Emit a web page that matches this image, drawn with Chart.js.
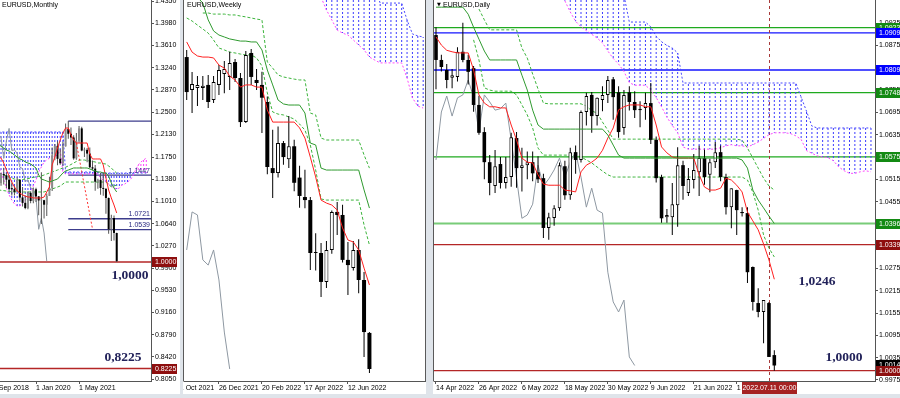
<!DOCTYPE html>
<html><head><meta charset="utf-8">
<script src="https://cdn.jsdelivr.net/npm/chart.js@4/dist/chart.umd.min.js"></script>
<style>
html,body{margin:0;padding:0;width:900px;height:398px;overflow:hidden;background:#dfe4ea;}
.p{position:absolute;top:0;background:#fff;}
#pm{left:0;width:180px;height:394px;}
#pw{left:183px;width:243px;height:394px;}
#pd{left:433px;width:467px;height:394px;}
canvas{display:block;}
</style></head><body>
<div class="p" id="pm"><canvas id="cm" width="180" height="394"></canvas></div>
<div class="p" id="pw"><canvas id="cw" width="243" height="394"></canvas></div>
<div class="p" id="pd"><canvas id="cd" width="467" height="394"></canvas></div>
<script>
const FONT = '"Liberation Sans", Arial, sans-serif';

// ================= MONTHLY (index 0 = Nov 2018) =================
const mTickIdx = [-2, 14, 30];
const mTickLbl = ['1 Sep 2018', '1 Jan 2020', '1 May 2021'];
const mYTicks = [1.4350,1.3980,1.3610,1.3240,1.2870,1.2500,1.2130,1.1750,1.1380,1.1010,1.0640,1.0270,0.9900,0.9530,0.9160,0.8790,0.8420,0.8050];
const mOpen = [1.1310,1.1316,1.1467,1.1445,1.1372,1.1217,1.1214,1.1169,1.1370,1.1076,
1.0986,1.0899,1.1152,1.1017,1.1212,1.1094,1.1026,1.1030,1.0955,1.1101,
1.1233,1.1778,1.1936,1.1720,1.1646,1.1927,1.2216,1.2137,1.2075,1.1727,
1.2020,1.2227,1.1858,1.1870,1.1807,1.1579,1.1557,1.1338,1.1370,1.1234,
1.1218,1.1067,1.0545,1.0733,1.0484];
const mHigh = [1.1500,1.1486,1.1570,1.1489,1.1448,1.1324,1.1265,1.1412,1.1384,1.1250,
1.1109,1.1179,1.1176,1.1240,1.1239,1.1096,1.1495,1.1039,1.1140,1.1422,
1.1909,1.1966,1.2011,1.1881,1.2004,1.2310,1.2349,1.2243,1.2113,1.2150,
1.2266,1.2254,1.1909,1.1900,1.1909,1.1692,1.1616,1.1386,1.1483,1.1495,
1.1233,1.1076,1.0787,1.0774,1.0486];
const mLow = [1.1215,1.1270,1.1290,1.1234,1.1176,1.1110,1.1107,1.1168,1.1028,1.0926,
1.0879,1.0879,1.0981,1.0981,1.1002,1.0778,1.0635,1.0727,1.0766,1.1100,
1.1185,1.1695,1.1612,1.1622,1.1603,1.1924,1.2053,1.1952,1.1704,1.1704,
1.1986,1.1847,1.1752,1.1664,1.1563,1.1524,1.1186,1.1222,1.1121,1.1106,
1.0806,1.0470,1.0348,1.0359,1.0000];
const mClose = [1.1316,1.1467,1.1445,1.1372,1.1217,1.1214,1.1169,1.1370,1.1076,1.0986,
1.0899,1.1152,1.1017,1.1212,1.1094,1.1026,1.1030,1.0955,1.1101,1.1233,
1.1778,1.1936,1.1720,1.1646,1.1927,1.2216,1.2137,1.2075,1.1727,1.2020,
1.2227,1.1858,1.1870,1.1807,1.1579,1.1557,1.1338,1.1370,1.1234,1.1218,
1.1067,1.0545,1.0733,1.0484,1.0014];
const mTenkan = [1.1750,1.1733,1.1650,1.1533,1.1433,1.1333,1.1250,1.1183,1.1150,1.1117,
1.1100,1.1083,1.1083,1.1067,1.1067,1.1067,1.1067,1.1083,1.1167,1.1250,
1.1617,1.1750,1.1900,1.2033,1.2150,1.2233,1.2233,1.2117,1.2033,1.1983,
1.1983,1.1983,1.1983,1.1983,1.1800,1.1717,1.1717,1.1717,1.1717,1.1617,
1.1400,1.1200,1.1067,1.0950,1.0817];
const mKijun = [1.1950,1.1933,1.1900,1.1867,1.1850,1.1817,1.1783,1.1750,1.1717,1.1700,
1.1667,1.1650,1.1633,1.1600,1.1567,1.1450,1.1383,1.1367,1.1350,1.1333,
1.1350,1.1367,1.1383,1.1433,1.1483,1.1517,1.1533,1.1550,1.1567,1.1567,
1.1567,1.1567,1.1567,1.1567,1.1550,1.1533,1.1517,1.1500,1.1500,1.1483,
1.1483,1.1433,1.1317,1.1233,1.1167];
const mDashA = [1.1483,1.1467,1.1450,1.1433,1.1417,1.1400,1.1383,1.1367,1.1367,1.1375,
1.1383,1.1390,1.1400,1.1410,1.1417,1.1425,1.1433,1.1450,1.1467,1.1483,
1.1500,1.1517,1.1533,1.1550,1.1567,1.1580,1.1600,1.1625,1.1650,1.1675,
1.1700,1.1700,1.1700,1.1690,1.1683,1.1675,1.1667,1.1650,1.1650,1.1640,
1.1633,1.1600,1.1567,1.1520,1.1483];
const mDashB = [1.1200,1.1195,1.1190,1.1183,1.1175,1.1170,1.1167,1.1167,1.1167,1.1167,
1.1167,1.1167,1.1167,1.1167,1.1167,1.1167,1.1167,1.1167,1.1183,1.1200,
1.1217,1.1233,1.1250,1.1267,1.1300,1.1333,1.1333,1.1333,1.1333,1.1333,
1.1333,1.1333,1.1333,1.1333,1.1333,1.1333,1.1333,1.1333,1.1333,1.1333,
1.1333,1.1300,1.1250,1.1267,1.1283];
const mSpanA = [1.1617,1.1500,1.1367,1.1233,1.1117,1.1033,1.0967,1.0933,1.0933,1.0983,
1.1033,1.1083,1.1167,1.1267,1.1367,1.1500,1.1583,1.1667,1.1700,1.1733,
1.1750,1.1767,1.1783,1.1867,1.1500,1.1470,1.1470,1.1470,1.1470,1.1470,
1.1470,1.1470,1.1470,1.1470,1.1470,1.1470,1.1470,1.1470,1.1400,1.1367,
1.1333,1.1300,1.1267,1.1233,1.1217,1.1233,1.1283,1.1300,1.1333,1.1367,
1.1433,1.1533,1.1617,1.1667,1.1700,1.1733];
const mSpanB = [1.2167,1.2167,1.2167,1.2167,1.2167,1.2167,1.2167,1.2167,1.2167,1.2167,
1.2167,1.2167,1.2167,1.2167,1.2167,1.2167,1.2167,1.2167,1.2167,1.2167,
1.2167,1.2167,1.2167,1.2167,1.2167,1.1500,1.1500,1.1500,1.1500,1.1500,
1.1500,1.1500,1.1500,1.1500,1.1500,1.1500,1.1500,1.1500,1.1483,1.1483,
1.1483,1.1483,1.1483,1.1483,1.1483,1.1483,1.1483,1.1483,1.1483,1.1483,
1.1483,1.1483,1.1483,1.1483,1.1483,1.1483];
const mTrendIdx = [29, 35];
const mTrendVal = [1.1983, 1.0550];
const mLevels = [1.2349, 1.1447, 1.0721, 1.0539, 1.0000, 0.8225];
const mLevelStart = [26, 26, 26, 26, null, null];
const mLevelKind = ['n', 'n', 'n', 'n', 'r', 'r'];
const mLevelTag = [false, true, true, true, false, false];
const mBoxes = [1.0000, 0.8225];
const mNotes = ['1,0000', '0,8225'];

// ================= WEEKLY (index 0 = week of 14 Nov 2021) =================
const wTickIdx = [-2, 6, 14, 22, 30];
const wTickLbl = ['31 Oct 2021', '26 Dec 2021', '20 Feb 2022', '17 Apr 2022', '12 Jun 2022'];
const wOpen = [1.1458,1.1306,1.1315,1.1315,1.1329,1.1259,1.1329,1.1380,1.1366,1.1435,
1.1361,1.1157,1.1477,1.1352,1.1329,1.1250,1.0944,1.0921,1.1060,1.0985,
1.1045,1.0900,1.0810,1.0796,1.0551,1.0551,1.0417,1.0565,1.0741,1.0727,
1.0519,1.0481,1.0565,1.0426,1.0181];
const wHigh = [1.1491,1.1389,1.1370,1.1370,1.1375,1.1370,1.1421,1.1440,1.1483,1.1449,
1.1384,1.1486,1.1495,1.1403,1.1390,1.1275,1.1121,1.1137,1.1070,1.1185,
1.1075,1.0955,1.0936,1.0810,1.0642,1.0597,1.0607,1.0748,1.0787,1.0774,
1.0602,1.0606,1.0615,1.0463,1.0185];
const wLow = [1.1259,1.1199,1.1232,1.1259,1.1222,1.1245,1.1282,1.1290,1.1306,1.1343,
1.1134,1.1153,1.1329,1.1306,1.1106,1.0915,1.0806,1.0900,1.0960,1.0945,
1.0837,1.0760,1.0758,1.0472,1.0470,1.0347,1.0389,1.0547,1.0634,1.0507,
1.0356,1.0470,1.0365,1.0069,0.9995];
const wClose = [1.1296,1.1333,1.1329,1.1325,1.1250,1.1343,1.1398,1.1403,1.1431,1.1361,
1.1157,1.1468,1.1366,1.1338,1.1270,1.0949,1.0921,1.1060,1.0995,1.1045,
1.0876,1.0815,1.0796,1.0551,1.0556,1.0417,1.0565,1.0741,1.0727,1.0519,
1.0495,1.0565,1.0426,1.0185,1.0014];
const wTenkan = [1.1528,1.1481,1.1463,1.1458,1.1458,1.1454,1.1421,1.1407,1.1370,1.1352,
1.1319,1.1329,1.1329,1.1319,1.1319,1.1213,1.1157,1.1157,1.1157,1.1157,
1.1157,1.1130,1.1083,1.0995,1.0903,1.0796,1.0782,1.0773,1.0750,1.0667,
1.0611,1.0602,1.0565,1.0481,1.0403];
const wKijun = [1.1820,1.1780,1.1735,1.1708,1.1630,1.1579,1.1560,1.1551,1.1542,1.1537,
1.1532,1.1532,1.1528,1.1528,1.1491,1.1398,1.1329,1.1259,1.1241,1.1236,
1.1236,1.1236,1.1199,1.1060,1.1051,1.0944,1.0935,1.0935,1.0935,1.0935,
1.0935,1.0935,1.0935,1.0843,1.0759];
const wDashAStart = 3;
const wDashA = [1.1662,1.1662,1.1657,1.1657,1.1657,1.1653,1.1653,1.1648,1.1644,1.1639,
1.1634,1.1630,1.1435,1.1407,1.1375,1.1366,1.1361,1.1356,1.1352,1.1352,
1.1199,1.1190,1.1083,1.1074,1.1074,1.1074,1.1074,1.1074,1.1074,1.1074,
1.1005,1.0944];
const wDashB = [1.1639,1.1625,1.1606,1.1588,1.1569,1.1537,1.1500,1.1491,1.1481,1.1477,
1.1472,1.1468,1.1468,1.1454,1.1417,1.1292,1.1204,1.1194,1.1190,1.1181,
1.1171,1.1148,1.1120,1.1051,1.0935,1.0801,1.0796,1.0796,1.0796,1.0796,
1.0796,1.0796,1.0796,1.0681,1.0588];
const wCloudStart = 25;
const wSpanA = [1.1735,1.1676,1.1630,1.1583,1.1569,1.1560,1.1537,1.1514,1.1491,1.1458,
1.1444,1.1431,1.1431,1.1431,1.1431,1.1431,1.1361,1.1269,1.1231,1.1222];
const wSpanB = [1.1780,1.1780,1.1780,1.1780,1.1780,1.1780,1.1780,1.1780,1.1780,1.1780,
1.1780,1.1708,1.1708,1.1708,1.1708,1.1708,1.1630,1.1565,1.1556,1.1551];

// ================= DAILY (index 0 = 14 Apr 2022) =================
const dTickIdx = [0, 8, 16, 24, 32, 40, 48, 56];
const dTickLbl = ['14 Apr 2022','26 Apr 2022','6 May 2022','18 May 2022','30 May 2022','9 Jun 2022','21 Jun 2022','1 Jul 2022'];
const dYTicks = [0.9975,1.0035,1.0095,1.0155,1.0215,1.0275,1.0335,1.0395,1.0455,1.0515,1.0575,1.0635,1.0695,1.0755,1.0815,1.0875,1.0935];
const dOpen = [1.0903,1.0836,1.0809,1.0788,1.0790,1.0858,1.0836,1.0814,1.0715,1.0642,
1.0561,1.0497,1.0556,1.0505,1.0521,1.0626,1.0545,1.0553,1.0561,1.0534,
1.0518,1.0384,1.0411,1.0437,1.0550,1.0472,1.0588,1.0567,1.0696,1.0742,
1.0685,1.0728,1.0742,1.0784,1.0749,1.0653,1.0749,1.0723,1.0701,1.0707,
1.0720,1.0621,1.0521,1.0413,1.0413,1.0445,1.0553,1.0478,1.0513,1.0534,
1.0572,1.0527,1.0561,1.0588,1.0521,1.0440,1.0486,1.0427,1.0424,1.0279,
1.0182,1.0158,1.0182,1.0042];
const dHigh = [1.0924,1.0850,1.0825,1.0812,1.0870,1.0936,1.0850,1.0820,1.0740,1.0655,
1.0580,1.0594,1.0575,1.0575,1.0640,1.0642,1.0600,1.0590,1.0590,1.0577,
1.0530,1.0425,1.0445,1.0560,1.0565,1.0600,1.0606,1.0700,1.0748,1.0750,
1.0735,1.0765,1.0793,1.0790,1.0765,1.0755,1.0765,1.0752,1.0725,1.0748,
1.0774,1.0630,1.0527,1.0435,1.0505,1.0601,1.0565,1.0545,1.0583,1.0605,
1.0595,1.0570,1.0615,1.0606,1.0530,1.0490,1.0487,1.0440,1.0440,1.0280,
1.0222,1.0190,1.0185,1.0055];
const dLow = [1.0757,1.0805,1.0760,1.0760,1.0778,1.0830,1.0770,1.0697,1.0635,1.0515,
1.0472,1.0478,1.0490,1.0490,1.0495,1.0492,1.0482,1.0515,1.0510,1.0505,
1.0357,1.0352,1.0390,1.0430,1.0460,1.0460,1.0530,1.0560,1.0660,1.0640,
1.0660,1.0698,1.0720,1.0675,1.0627,1.0635,1.0700,1.0680,1.0655,1.0675,
1.0610,1.0506,1.0398,1.0398,1.0365,1.0387,1.0460,1.0470,1.0490,1.0470,
1.0500,1.0480,1.0545,1.0510,1.0420,1.0383,1.0365,1.0415,1.0236,1.0162,
1.0144,1.0074,1.0037,1.0000];
const dClose = [1.0836,1.0817,1.0782,1.0795,1.0858,1.0836,1.0804,1.0715,1.0640,1.0561,
1.0505,1.0550,1.0505,1.0521,1.0628,1.0545,1.0553,1.0561,1.0531,1.0515,
1.0384,1.0413,1.0437,1.0553,1.0472,1.0588,1.0567,1.0696,1.0739,1.0685,
1.0734,1.0742,1.0782,1.0736,1.0642,1.0742,1.0723,1.0701,1.0705,1.0720,
1.0621,1.0518,1.0410,1.0419,1.0448,1.0553,1.0497,1.0516,1.0540,1.0572,
1.0521,1.0561,1.0588,1.0521,1.0440,1.0491,1.0432,1.0424,1.0265,1.0185,
1.0158,1.0190,1.0037,1.0014];
const dTenkan = [1.0898,1.0876,1.0862,1.0858,1.0855,1.0855,1.0855,1.0809,1.0742,1.0720,
1.0710,1.0710,1.0707,1.0707,1.0661,1.0621,1.0572,1.0561,1.0559,1.0527,
1.0502,1.0499,1.0499,1.0499,1.0486,1.0484,1.0481,1.0535,1.0553,1.0561,
1.0572,1.0593,1.0626,1.0653,1.0702,1.0710,1.0715,1.0715,1.0715,1.0710,
1.0710,1.0661,1.0602,1.0586,1.0575,1.0572,1.0572,1.0572,1.0572,1.0527,
1.0494,1.0486,1.0486,1.0491,1.0518,1.0513,1.0499,1.0481,1.0427,1.0403,
1.0379,1.0341,1.0298,1.0246];
const dKijun = [1.0978,1.0978,1.0978,1.0978,1.0978,1.0978,1.0959,1.0924,1.0892,1.0860,
1.0836,1.0836,1.0836,1.0836,1.0836,1.0836,1.0795,1.0755,1.0701,1.0661,
1.0650,1.0650,1.0650,1.0650,1.0650,1.0650,1.0650,1.0650,1.0650,1.0650,
1.0650,1.0650,1.0634,1.0607,1.0580,1.0572,1.0572,1.0572,1.0572,1.0572,
1.0572,1.0572,1.0572,1.0572,1.0572,1.0572,1.0572,1.0572,1.0572,1.0572,
1.0572,1.0572,1.0572,1.0572,1.0572,1.0572,1.0572,1.0567,1.0545,1.0486,
1.0459,1.0438,1.0416,1.0396];
const dDashAStart = 8;
const dDashA = [1.0973,1.0944,1.0917,1.0917,1.0917,1.0917,1.0917,1.0917,1.0868,1.0841,
1.0798,1.0758,1.0720,1.0718,1.0718,1.0718,1.0718,1.0718,1.0718,1.0718,
1.0712,1.0699,1.0693,1.0669,1.0647,1.0623,1.0623,1.0623,1.0623,1.0623,
1.0623,1.0623,1.0623,1.0623,1.0623,1.0623,1.0623,1.0623,1.0623,1.0623,
1.0623,1.0623,1.0623,1.0623,1.0623,1.0623,1.0623,1.0623,1.0623,1.0620,
1.0599,1.0572,1.0545,1.0518,1.0497,1.0486];
const dDashBStart = 7;
const dDashB = [1.0890,1.0836,1.0761,1.0755,1.0752,1.0752,1.0752,1.0752,1.0742,1.0715,
1.0688,1.0653,1.0599,1.0580,1.0580,1.0580,1.0580,1.0580,1.0580,1.0580,
1.0575,1.0567,1.0559,1.0548,1.0537,1.0527,1.0521,1.0521,1.0521,1.0521,
1.0521,1.0521,1.0521,1.0521,1.0521,1.0521,1.0521,1.0521,1.0521,1.0521,
1.0521,1.0521,1.0521,1.0521,1.0521,1.0521,1.0521,1.0521,1.0521,1.0521,
1.0521,1.0513,1.0480,1.0432,1.0365,1.0330,1.0306];
const dCloudStart = 24;
const dSpanA = [1.0995,1.0965,1.0940,1.0925,1.0915,1.0905,1.0895,1.0882,1.0860,1.0840,
1.0825,1.0805,1.0775,1.0768,1.0768,1.0768,1.0755,1.0735,1.0710,1.0682,
1.0660,1.0640,1.0602,1.0596,1.0596,1.0596,1.0596,1.0596,1.0596,1.0600,
1.0605,1.0608,1.0605,1.0605,1.0602,1.0608,1.0615,1.0625,1.0635,1.0640,
1.0640,1.0640,1.0638,1.0632,1.0622,1.0592,1.0585,1.0578,1.0575,1.0573,
1.0565,1.0548,1.0538,1.0531,1.0531,1.0535,1.0538,1.0535];
const dSpanB = [1.1010,1.1010,1.1010,1.1010,1.1010,1.1010,1.1010,1.1010,1.1010,1.1010,
1.1010,1.1010,1.0938,1.0938,1.0938,1.0938,1.0925,1.0900,1.0885,1.0875,
1.0868,1.0855,1.0774,1.0774,1.0774,1.0774,1.0774,1.0774,1.0774,1.0774,
1.0774,1.0774,1.0774,1.0774,1.0774,1.0774,1.0774,1.0774,1.0774,1.0774,
1.0774,1.0774,1.0774,1.0774,1.0736,1.0698,1.0658,1.0653,1.0653,1.0653,
1.0653,1.0653,1.0653,1.0653,1.0653,1.0653,1.0653,1.0653];
const dLevels = [1.0923, 1.0909, 1.0809, 1.0748, 1.0575, 1.0396, 1.0339, 1.0000];
const dLevelKind = ['g', 'b', 'b', 'g', 'g', 'g2', 'r', 'r'];
const dLastPrice = 1.0014;
const dMarkerIdx = 62;
const dMarkerLbl = '2022.07.11 00:00';
const dNotes = ['1,0246', '1,0000'];

// ================= helpers =================
Chart.defaults.font.family = FONT;
Chart.defaults.font.size = 7;
Chart.defaults.color = '#000';

const LINE_COL = { g: '#1faa1f', g2: '#78cc78', b: '#1414ff', r: '#b42626', n: '#3c3c8c' };
const BOX_COL = { g: '#138a13', g2: '#138a13', b: '#0000ff', r: '#8e0f0f', k: '#000000' };

function pats(ctx) {
  const mk = col => {
    const c = document.createElement('canvas'); c.width = 1; c.height = 4;
    const g = c.getContext('2d'); g.fillStyle = col; g.fillRect(0, 0, 1, 2);
    return ctx.createPattern(c, 'repeat');
  };
  return { b: mk('#3c3cff'), m: mk('#ff3cff') };
}
function candles(o, h, l, c, st) {
  const bull = o.map((v, i) => c[i] >= v);
  return [
    { type: 'bar', order: 2, grouped: false, barThickness: 1, inflateAmount: 0, minBarLength: 1, borderWidth: 0,
      backgroundColor: st.wick, data: o.map((_, i) => ({ x: i, y: [l[i], h[i]] })) },
    { type: 'bar', order: 1, grouped: false, barThickness: st.w, inflateAmount: 0, minBarLength: 1, borderSkipped: false,
      backgroundColor: bull.map(b => b ? st.bull : st.bear), borderColor: '#000',
      borderWidth: bull.map(b => b ? st.bw : 0), data: o.map((v, i) => ({ x: i, y: [v, c[i]] })) }
  ];
}
function line(vals, x0, color, dash, order) {
  return { type: 'line', order, borderColor: color, borderWidth: 1, borderDash: dash || [], pointRadius: 0,
    tension: 0, fill: false, spanGaps: false, data: vals.map((v, i) => ({ x: i + x0, y: v })) };
}
function cloud(a, b, x0, p) {
  return [
    { type: 'bar', order: 6, grouped: false, barThickness: 1, inflateAmount: 0, borderWidth: 0,
      backgroundColor: a.map((v, i) => v > b[i] ? p.m : p.b), data: a.map((v, i) => ({ x: i + x0, y: [v, b[i]] })) },
    line(b, x0, '#4646ff', [2, 2], 5),
    line(a, x0, '#ff46ff', [2, 2], 5)
  ];
}
function overlay(cfg) {
  return {
    id: 'ov',
    beforeDatasetsDraw(chart) {
      const { ctx, chartArea: a, scales: { x, y } } = chart;
      ctx.save();
      ctx.beginPath(); ctx.rect(a.left, a.top, a.right - a.left, a.bottom - a.top); ctx.clip();
      (cfg.levels || []).forEach(L => {
        const w = L.w || 1.3;
        const py = y.getPixelForValue(L.v);
        const x0 = L.from != null ? x.getPixelForValue(L.from) : a.left;
        ctx.strokeStyle = L.color; ctx.lineWidth = w; ctx.setLineDash([]);
        ctx.beginPath(); ctx.moveTo(x0, py); ctx.lineTo(a.right, py); ctx.stroke();
      });
      if (cfg.vline != null) {
        const px = Math.round(x.getPixelForValue(cfg.vline)) + 0.5;
        ctx.strokeStyle = '#a83a3a'; ctx.lineWidth = 1; ctx.setLineDash([3, 3]);
        ctx.beginPath(); ctx.moveTo(px, a.top); ctx.lineTo(px, a.bottom); ctx.stroke();
      }
      ctx.restore();
    },
    afterDraw(chart) {
      const { ctx, chartArea: a, scales: { x, y } } = chart;
      ctx.save();
      ctx.strokeStyle = '#5a5a5a'; ctx.lineWidth = 1; ctx.setLineDash([]);
      (cfg.frame || []).forEach(s => {
        const px = s === 'left' ? a.left - 0.5 : a.right + 0.5;
        ctx.beginPath(); ctx.moveTo(px, 0); ctx.lineTo(px, a.bottom + 0.5); ctx.stroke();
      });
      (cfg.texts || []).forEach(t => {
        ctx.font = t.font; ctx.fillStyle = t.color || '#000';
        ctx.textAlign = t.align || 'left'; ctx.textBaseline = 'middle';
        const py = t.v != null ? y.getPixelForValue(t.v) + (t.dy || 0) : t.y;
        ctx.fillText(t.text, t.x, py);
      });
      (cfg.boxes || []).forEach(b => {
        const py = Math.round(y.getPixelForValue(b.v));
        const bx = a.right + 1, bw = b.w || (chart.width - bx);
        ctx.fillStyle = b.bg; ctx.fillRect(bx, py - 5, bw, 10);
        ctx.fillStyle = '#fff'; ctx.font = '7px ' + FONT; ctx.textAlign = 'left'; ctx.textBaseline = 'middle';
        ctx.fillText(b.v.toFixed(4), bx + 3, py + 0.5);
      });
      if (cfg.dateBox) {
        const px = x.getPixelForValue(cfg.dateBox.at);
        ctx.fillStyle = '#a52222'; ctx.fillRect(Math.round(px - 27), a.bottom + 1, 55, 12);
        ctx.fillStyle = '#fff'; ctx.font = '7px ' + FONT; ctx.textAlign = 'center'; ctx.textBaseline = 'middle';
        ctx.fillText(cfg.dateBox.text, px + 0.5, a.bottom + 7.5);
      }
      ctx.restore();
    }
  };
}
function xScale(min, max, idx, lbl) {
  return {
    type: 'linear', min, max, offset: false,
    grid: { display: true, drawOnChartArea: false, drawTicks: true, tickLength: 3, color: '#555', offset: false },
    border: { display: true, color: '#555' },
    ticks: { align: 'start', maxRotation: 0, minRotation: 0, autoSkip: false, padding: 0, color: '#000',
      font: { size: 7 }, callback: (v, i) => lbl[i] },
    afterBuildTicks: s => { s.ticks = idx.map(v => ({ value: v })); },
    afterFit: s => { s.height = 13; s.paddingLeft = 0; s.paddingRight = 0; }
  };
}
function yScale(min, max, ticks, width, show) {
  return {
    type: 'linear', position: 'right', min, max, display: show,
    grid: { display: true, drawOnChartArea: false, tickLength: 3, color: '#555' },
    border: { display: true, color: '#555' },
    ticks: { autoSkip: false, padding: 1, color: '#000', font: { size: 7 }, callback: v => v.toFixed(4) },
    afterBuildTicks: s => { if (ticks) s.ticks = ticks.map(v => ({ value: v })); },
    afterFit: s => { s.width = width; s.paddingTop = 0; s.paddingBottom = 0; }
  };
}
function make(id, datasets, x, y, pad, ov) {
  new Chart(document.getElementById(id), {
    type: 'bar',
    data: { datasets },
    options: {
      responsive: false, animation: false, devicePixelRatio: 1, events: [],
      layout: { padding: pad },
      plugins: { legend: { display: false }, tooltip: { enabled: false } },
      scales: { x, y }
    },
    plugins: [overlay(ov)]
  });
}
const NOTE_FONT = 'bold 13.5px "Liberation Serif", "DejaVu Serif", serif';
const NOTE_COL = '#22225a';

// ================= MONTHLY chart =================
{
  const p = pats(document.getElementById('cm').getContext('2d'));
  const ds = [
    ...cloud(mSpanA, mSpanB, 0, p),
    line(mClose.slice(26), 0, '#8e98a2', [], 4),
    line(mDashA, 0, '#3cb43c', [3, 2], 3),
    line(mDashB, 0, '#3cb43c', [3, 2], 3),
    line(mKijun, 0, '#2f9a2f', [], 0),
    line(mTenkan, 0, '#ff2020', [], 0),
    { type: 'line', order: 0, borderColor: '#ff3030', borderWidth: 1, borderDash: [2, 2], pointRadius: 0, fill: false,
      data: mTrendIdx.map((k, i) => ({ x: k, y: mTrendVal[i] })) },
    ...candles(mOpen, mHigh, mLow, mClose, { w: 2, bull: '#8c8c8c', bear: '#000', bw: 0, wick: '#555' })
  ];
  const texts = [{ text: 'EURUSD,Monthly', x: 2, y: 5, font: '7px ' + FONT }];
  mLevels.forEach((v, i) => { if (mLevelTag[i]) texts.push({ text: v.toFixed(4), x: 150, v, dy: -4.5, align: 'right', font: '7px ' + FONT, color: '#2a2a80' }); });
  texts.push({ text: mNotes[0], x: 130, y: 276, align: 'center', font: NOTE_FONT, color: NOTE_COL });
  texts.push({ text: mNotes[1], x: 123, y: 358, align: 'center', font: NOTE_FONT, color: NOTE_COL });
  make('cm', ds, xScale(0.617, 56.75, mTickIdx, mTickLbl), yScale(0.80167, 1.43667, mYTicks, 29, true),
    { left: 0, right: 0, top: 0, bottom: 0 },
    {
      levels: mLevels.map((v, i) => ({ v, from: mLevelStart[i], color: LINE_COL[mLevelKind[i]] })),
      texts,
      boxes: mBoxes.map(v => ({ v, bg: BOX_COL.r, w: 25 }))
    });
}

// ================= WEEKLY chart =================
{
  const p = pats(document.getElementById('cw').getContext('2d'));
  const ds = [
    ...cloud(wSpanA, wSpanB, wCloudStart, p),
    line(wClose.slice(26), 0, '#8e98a2', [], 4),
    line(wDashA, wDashAStart, '#3cb43c', [3, 2], 3),
    line(wDashB, 0, '#3cb43c', [3, 2], 3),
    line(wKijun, 0, '#2f9a2f', [], 0),
    line(wTenkan, 0, '#ff2020', [], 0),
    ...candles(wOpen, wHigh, wLow, wClose, { w: 4, bull: '#fff', bear: '#000', bw: 1, wick: '#000' })
  ];
  make('cw', ds, xScale(-0.502, 44.34, wTickIdx, wTickLbl), yScale(0.995833, 1.172222, null, 0, false),
    { left: 1, right: 1, top: 0, bottom: 0 },
    { frame: ['left', 'right'], texts: [{ text: 'EURUSD,Weekly', x: 4, y: 5, font: '7px ' + FONT }] });
}

// ================= DAILY chart =================
{
  const p = pats(document.getElementById('cd').getContext('2d'));
  const ds = [
    ...cloud(dSpanA, dSpanB, dCloudStart, p),
    line(dClose.slice(26), 0, '#8e98a2', [], 4),
    line(dDashA, dDashAStart, '#3cb43c', [3, 2], 3),
    line(dDashB, dDashBStart, '#3cb43c', [3, 2], 3),
    line(dKijun, 0, '#2f9a2f', [], 0),
    line(dTenkan, 0, '#ff2020', [], 0),
    ...candles(dOpen, dHigh, dLow, dClose, { w: 3.6, bull: '#fff', bear: '#000', bw: 1, wick: '#000' })
  ];
  const boxes = [];
  dLevels.forEach((v, i) => {
    if (v === 1.0000) boxes.push({ v: dLastPrice, bg: BOX_COL.k });
    boxes.push({ v, bg: BOX_COL[dLevelKind[i]] });
  });
  make('cd', ds, xScale(-0.372, 81.75, dTickIdx, dTickLbl), yScale(0.997229, 1.099731, dYTicks, 25, true),
    { left: 1, right: 0, top: 0, bottom: 0 },
    {
      frame: ['left'],
      levels: dLevels.map((v, i) => ({ v, color: LINE_COL[dLevelKind[i]], w: dLevelKind[i] === 'g2' ? 2 : 1.3 })),
      vline: dMarkerIdx,
      texts: [
        { text: '\u25BC', x: 4, y: 5, font: '5px "DejaVu Sans"' },
        { text: 'EURUSD,Daily', x: 10, y: 5, font: '7px ' + FONT },
        { text: dNotes[0], x: 384, y: 282, align: 'center', font: NOTE_FONT, color: NOTE_COL },
        { text: dNotes[1], x: 411, y: 358, align: 'center', font: NOTE_FONT, color: NOTE_COL }
      ],
      boxes,
      dateBox: { at: dMarkerIdx, text: dMarkerLbl }
    });
}
</script>
</body></html>
